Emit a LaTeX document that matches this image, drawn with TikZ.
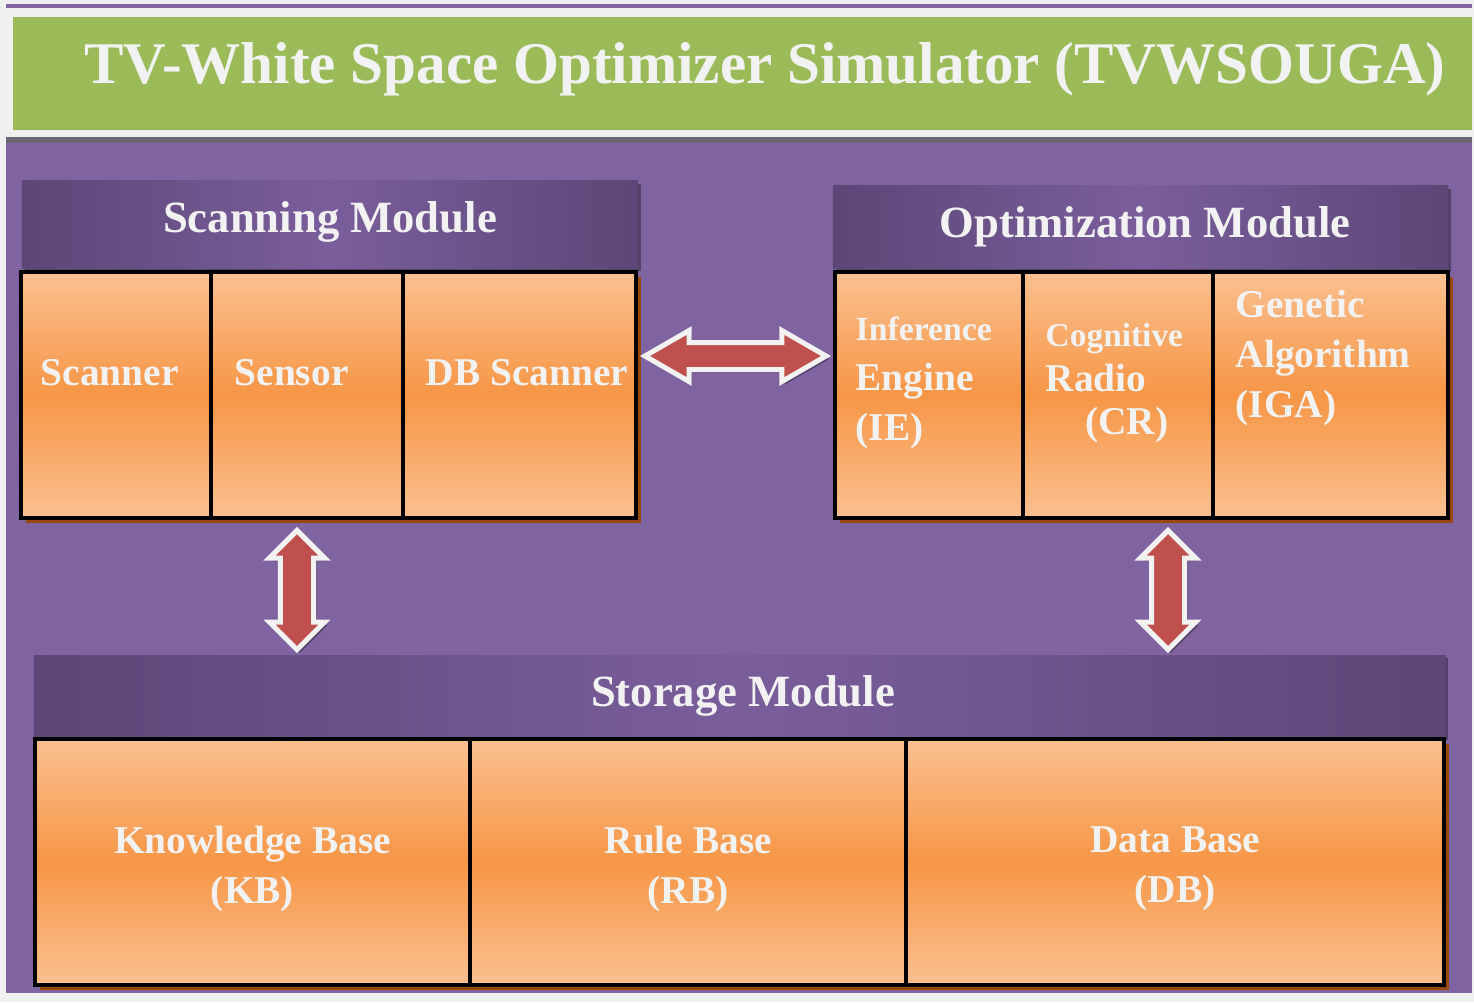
\documentclass[tikz,border=0pt]{standalone}
\usepackage{fontspec}
\setmainfont{Liberation Serif}
\usepackage{tikz}
\usetikzlibrary{shapes, positioning, calc, shadows}

\definecolor{pagegray}{HTML}{F0F0F0}
\definecolor{bodypurple}{HTML}{8064A2}
\definecolor{titlegreen}{HTML}{9BBB59}
\definecolor{bandgray}{HTML}{6B6670}
\definecolor{headdark}{HTML}{5C4777}
\definecolor{headlight}{HTML}{7A5E9C}
\definecolor{cellorange}{HTML}{F79646}
\definecolor{celllight}{HTML}{FAC090}
\definecolor{cellshadow}{HTML}{984807}
\definecolor{linkred}{HTML}{C0504D}
\definecolor{labelwhite}{HTML}{F2F2F2}

\begin{document}
\begin{tikzpicture}[x=0.01cm, y=-0.01cm,
  head/.style={rectangle, inner sep=0pt, outer sep=0pt,
    left color=headdark, right color=headdark, middle color=headlight,
    drop shadow={shadow xshift=0.03cm, shadow yshift=-0.03cm, fill=black, opacity=0.35}},
  headtext/.style={anchor=base, text=labelwhite, font=\bfseries\fontsize{12.7}{15}\selectfont},
  cell/.style={rectangle, draw=black, line width=0.04cm, minimum height=2.46cm,
    inner sep=0pt, outer sep=0pt,
    top color=celllight, bottom color=celllight, middle color=cellorange,
    drop shadow={shadow xshift=0.05cm, shadow yshift=-0.05cm, fill=cellshadow, opacity=1}},
  celltext/.style={anchor=west, inner sep=0pt, align=left, text=labelwhite,
    font=\bfseries\fontsize{11.2}{14.2}\selectfont},
  link/.style={double arrow, fill=linkred, draw=labelwhite, line width=0.05cm,
    inner xsep=0pt,
    drop shadow={shadow xshift=0.03cm, shadow yshift=-0.03cm, fill=black, opacity=0.35}},
]
  % page, title bar and module area
  \fill[pagegray] (0,0) rectangle (1474,1002);
  \fill[bodypurple] (6,4) rectangle (1472,8);
  \fill[titlegreen] (13,17) rectangle (1472,130);
  \fill[bandgray] (6,137) rectangle (1472,143);
  \fill[bodypurple] (6,143) rectangle (1472,993);
  \node[anchor=base, text=labelwhite, font=\bfseries\fontsize{16.8}{20}\selectfont] (title)
    at (765,83) {TV-White Space Optimizer Simulator (TVWSOUGA)};

  % Scanning module
  \node[head, minimum width=6.16cm, minimum height=0.87cm] (scanhead) at (330,224.5) {};
  \node[headtext] (scantitle) at (330,232) {Scanning Module};
  \node[cell, minimum width=1.90cm] (scanner) at (116,395) {};
  \node[cell, minimum width=1.92cm, right=0pt of scanner] (sensor) {};
  \node[cell, minimum width=2.33cm, right=0pt of sensor] (dbscan) {};
  \node[celltext] (scannertext) at (40,373) {Scanner};
  \node[celltext] (sensortext) at (234,373) {Sensor};
  \node[celltext] (dbscantext) at (425,373) {DB Scanner};

  % Optimization module
  \node[head, minimum width=6.15cm, minimum height=0.82cm] (opthead) at (1140.5,227) {};
  \node[headtext] (opttitle) at (1145,237) {Optimization Module};
  \node[cell, minimum width=1.88cm] (ie) at (929,395) {};
  \node[cell, minimum width=1.90cm, right=0pt of ie] (cr) {};
  \node[cell, minimum width=2.35cm, right=0pt of cr] (iga) {};
  \node[celltext] (ietext) at (855,383)
    {{\fontsize{9.6}{13.4}\selectfont Inference}\\Engine\\(IE)};
  \node[celltext] (crtext) at (1045,383)
    {{\fontsize{9.5}{12}\selectfont Cognitive}\\[-1.5pt]Radio\\[-2pt]\hspace*{1em}(CR)};
  \node[celltext] (igatext) at (1235,358) {Genetic\\Algorithm\\(IGA)};

  % Storage module
  \node[head, minimum width=14.10cm, minimum height=0.82cm] (storehead) at (740,696) {};
  \node[headtext] (storetitle) at (743,706) {Storage Module};
  \node[cell, minimum width=4.35cm] (kb) at (252.5,862) {};
  \node[cell, minimum width=4.36cm, right=0pt of kb] (rb) {};
  \node[cell, minimum width=5.37cm, right=0pt of rb] (db) {};
  \node[celltext, anchor=center, align=center] (kbtext) at ($(kb)+(0,7)$) {Knowledge Base\\(KB)};
  \node[celltext, anchor=center, align=center] (rbtext) at ($(rb)+(0,7)$) {Rule Base\\(RB)};
  \node[celltext, anchor=center, align=center] (dbtext) at ($(db)+(0,7)$) {Data Base\\(DB)};

  % links between modules
  \node[link, minimum height=1.81cm, inner ysep=0.11cm,
    double arrow head extend=0.12cm, double arrow tip angle=60] (scanopt) at (735.5,356) {};
  \node[link, rotate=90, minimum height=1.19cm, inner ysep=0.14cm,
    double arrow head extend=0.11cm, double arrow tip angle=90] (scanstore) at (297,590) {};
  \node[link, rotate=90, minimum height=1.19cm, inner ysep=0.14cm,
    double arrow head extend=0.11cm, double arrow tip angle=90] (optstore) at (1168,590) {};
\end{tikzpicture}
\end{document}
